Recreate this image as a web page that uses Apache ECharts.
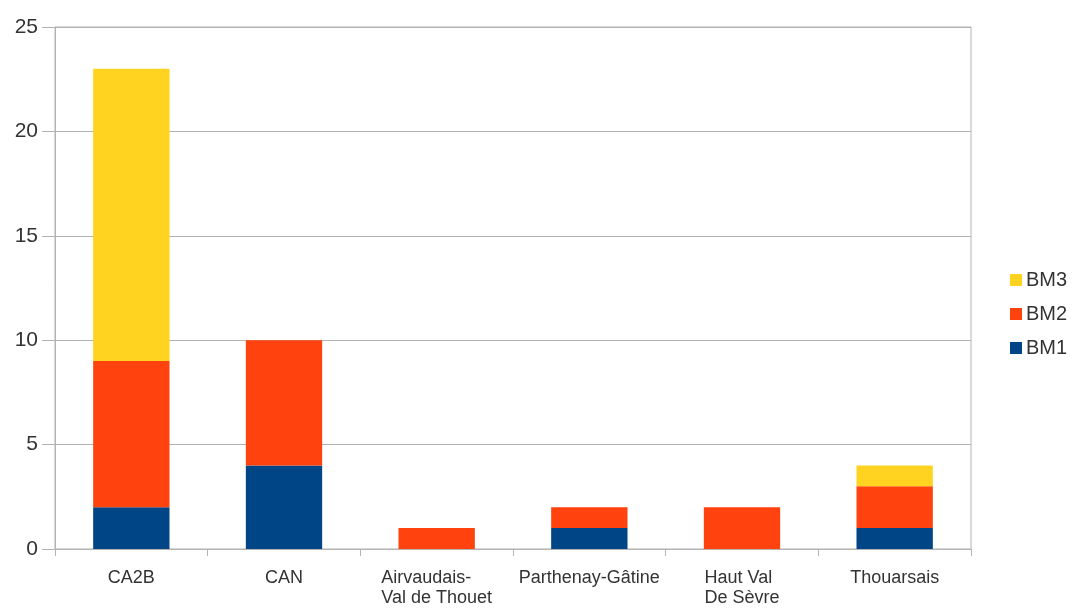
<!DOCTYPE html>
<html>
<head>
<meta charset="utf-8">
<script src="https://cdn.jsdelivr.net/npm/echarts@6/dist/echarts.min.js"></script>
<style>
html,body{margin:0;padding:0;background:#fff;}
#chart{width:1075px;height:608px;}
</style>
</head>
<body>
<div id="chart"></div>
<script>
const categories = ["CA2B", "CAN", "Airvaudais-\nVal de Thouet", "Parthenay-Gâtine", "Haut Val\nDe Sèvre", "Thouarsais"];
const bm1 = [2, 4, 0, 1, 0, 1];
const bm2 = [7, 6, 1, 1, 2, 2];
const bm3 = [14, 0, 0, 0, 0, 1];
const yTicks = { min: 0, max: 25, interval: 5 };

const FONT = '"Liberation Sans", Arial, sans-serif';
const chart = echarts.init(document.getElementById('chart'), null, { renderer: 'canvas' });
chart.setOption({
  animation: false,
  backgroundColor: '#ffffff',
  grid: { left: 55, right: 104, top: 27, bottom: 58, show: true, borderColor: '#b3b3b3', borderWidth: 1, backgroundColor: 'transparent' },
  legend: {
    orient: 'vertical',
    left: 1005,
    top: 265,
    itemWidth: 12,
    itemHeight: 12,
    itemGap: 14,
    icon: 'rect',
    data: ['BM3', 'BM2', 'BM1'],
    textStyle: { fontFamily: FONT, fontSize: 20, color: '#333333', padding: [0, 0, 0, -1] }
  },
  xAxis: {
    type: 'category',
    data: categories,
    axisLine: { show: true, lineStyle: { color: '#b3b3b3', width: 1 } },
    axisTick: { show: true, alignWithLabel: false, length: 7, lineStyle: { color: '#b3b3b3' } },
    axisLabel: {
      margin: 19,
      fontFamily: FONT,
      fontSize: 18,
      color: '#333333',
      lineHeight: 20,
      interval: 0,
      formatter: function (v) { return v.split('\n').map(s => '{a|' + s + '}').join('\n'); },
      rich: { a: { align: 'left', fontFamily: FONT, fontSize: 18, color: '#333333', lineHeight: 20 } }
    }
  },
  yAxis: {
    type: 'value',
    min: yTicks.min,
    max: yTicks.max,
    interval: yTicks.interval,
    axisLine: { show: true, lineStyle: { color: '#b3b3b3', width: 1 } },
    axisTick: { show: true, length: 13, lineStyle: { color: '#b3b3b3' } },
    splitLine: { show: true, lineStyle: { color: '#b3b3b3', width: 1 } },
    axisLabel: { margin: 17, fontFamily: FONT, fontSize: 21, color: '#333333' }
  },
  series: [
    { name: 'BM1', type: 'bar', stack: 'total', data: bm1, barWidth: '50%', itemStyle: { color: '#004586' } },
    { name: 'BM2', type: 'bar', stack: 'total', data: bm2, barWidth: '50%', itemStyle: { color: '#ff420e' } },
    { name: 'BM3', type: 'bar', stack: 'total', data: bm3, barWidth: '50%', itemStyle: { color: '#ffd320' } }
  ]
});
</script>
</body>
</html>
